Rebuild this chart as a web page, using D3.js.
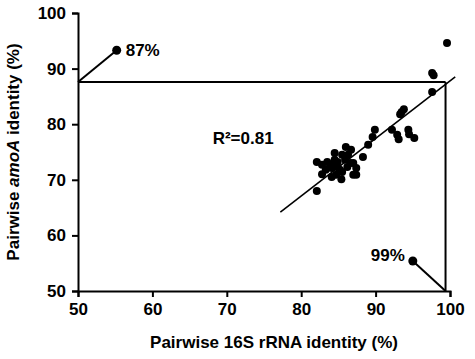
<!DOCTYPE html>
<html>
<head>
<meta charset="utf-8">
<script src="https://cdn.jsdelivr.net/npm/d3@7"></script>
<style>
  body { margin: 0; background: #fff; }
  svg { display: block; font-family: "Liberation Sans", Arial, sans-serif; font-weight: bold; }
</style>
</head>
<body>
<div id="chart"></div>
<script>
// pairwise 16S vs amoA identity
const xTicks = [50, 60, 70, 80, 90, 100];
const yTicks = [50, 60, 70, 80, 90, 100];
const pairX = [99.6, 97.6, 97.8, 97.6, 93.5, 93.8, 93.3, 92.2, 92.9, 93.1, 94.4, 94.5, 95.2,
  89.9, 89.6, 89.0, 88.3, 87.4, 87.0, 87.4, 86.6, 87.0, 86.3, 86.0, 86.7, 85.5, 86.2, 85.5,
  85.4, 84.8, 85.2, 84.7, 84.1, 84.5, 84.5, 83.9, 83.5, 82.8, 82.1, 82.8, 82.1, 83.3, 84.1,
  84.9, 85.9];
const pairY = [94.6, 89.2, 88.8, 85.8, 82.2, 82.7, 81.8, 79.0, 78.1, 77.3, 79.0, 78.2, 77.5,
  79.0, 77.7, 76.3, 74.1, 72.1, 70.9, 70.9, 73.0, 73.0, 74.5, 75.9, 75.4, 74.5, 72.3, 71.4,
  70.1, 72.3, 71.8, 70.9, 70.5, 74.8, 73.6, 72.7, 73.2, 72.7, 73.2, 71.0, 68.0, 71.8, 72.1,
  73.2, 73.6];
const fitX = [77.2, 100.7];
const fitY = [64.2, 88.5];
// threshold box: amoA 87.6 % vs 16S 99.4 %
const cutX = 99.4, cutY = 87.6;
const calloutTop = { x: 55.2, y: 93.3, label: "87%" };
const calloutBottom = { x: 95.0, y: 55.4, label: "99%" };
const r2Label = "R²=0.81";

const W = 475, H = 359;
const margin = { top: 13, right: 25, bottom: 68, left: 78 };

const svg = d3.select("#chart").append("svg").attr("width", W).attr("height", H);
const g = svg.append("g").attr("transform", `translate(${margin.left},${margin.top})`);
const iw = W - margin.left - margin.right, ih = H - margin.top - margin.bottom;

const x = d3.scaleLinear().domain([50, 100]).range([0, iw]);
const y = d3.scaleLinear().domain([50, 100]).range([ih, 0]);

const gx = g.append("g").attr("transform", `translate(0,${ih})`)
  .call(d3.axisBottom(x).tickValues(xTicks).tickSize(6).tickPadding(6));
const gy = g.append("g")
  .call(d3.axisLeft(y).tickValues(yTicks).tickSize(6).tickPadding(6));
for (const a of [gx, gy]) {
  a.select(".domain").attr("stroke", "#000").attr("stroke-width", 2);
  a.selectAll(".tick line").attr("stroke", "#000").attr("stroke-width", 2);
  a.selectAll(".tick text").attr("font-size", 17).attr("font-weight", "bold")
    .attr("font-family", "Liberation Sans, Arial, sans-serif").attr("fill", "#000");
}

// threshold lines
g.append("line").attr("x1", x(50)).attr("x2", x(cutX)).attr("y1", y(cutY)).attr("y2", y(cutY))
  .attr("stroke", "#000").attr("stroke-width", 2);
g.append("line").attr("x1", x(cutX)).attr("x2", x(cutX)).attr("y1", y(cutY)).attr("y2", y(50))
  .attr("stroke", "#000").attr("stroke-width", 2);

// callouts
g.append("line").attr("x1", x(50)).attr("y1", y(cutY)).attr("x2", x(calloutTop.x)).attr("y2", y(calloutTop.y))
  .attr("stroke", "#000").attr("stroke-width", 2);
g.append("circle").attr("cx", x(calloutTop.x)).attr("cy", y(calloutTop.y)).attr("r", 4.5);
g.append("text").attr("x", x(calloutTop.x) + 9).attr("y", y(calloutTop.y) + 6)
  .attr("font-size", 17).text(calloutTop.label);

g.append("line").attr("x1", x(cutX)).attr("y1", y(50)).attr("x2", x(calloutBottom.x)).attr("y2", y(calloutBottom.y))
  .attr("stroke", "#000").attr("stroke-width", 2);
g.append("circle").attr("cx", x(calloutBottom.x)).attr("cy", y(calloutBottom.y)).attr("r", 4.5);
g.append("text").attr("x", x(calloutBottom.x) - 8).attr("y", y(calloutBottom.y))
  .attr("text-anchor", "end").attr("font-size", 17).text(calloutBottom.label);

// regression line
g.append("line").attr("x1", x(fitX[0])).attr("y1", y(fitY[0])).attr("x2", x(fitX[1])).attr("y2", y(fitY[1]))
  .attr("stroke", "#000").attr("stroke-width", 1.6);

// points
g.append("g").selectAll("circle").data(pairX.map((v, i) => [v, pairY[i]])).join("circle")
  .attr("cx", (d) => x(d[0])).attr("cy", (d) => y(d[1])).attr("r", 4).attr("fill", "#000");

g.append("text").attr("x", x(68.1)).attr("y", y(76.5)).attr("font-size", 17).text(r2Label);

// axis titles
svg.append("text").attr("x", margin.left + iw / 2 + 10).attr("y", 348).attr("text-anchor", "middle")
  .attr("font-size", 17).text("Pairwise 16S rRNA identity (%)");
const yt = svg.append("text").attr("transform", `translate(19,${margin.top + ih / 2}) rotate(-90)`)
  .attr("text-anchor", "middle").attr("font-size", 17);
yt.append("tspan").text("Pairwise ");
yt.append("tspan").attr("font-style", "italic").text("amoA");
yt.append("tspan").text(" identity (%)");
</script>
</body>
</html>
